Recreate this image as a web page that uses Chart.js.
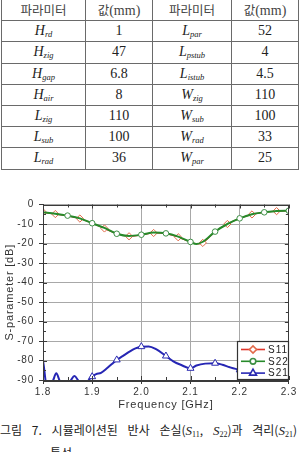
<!DOCTYPE html>
<html><head><meta charset="utf-8">
<script src="https://cdn.jsdelivr.net/npm/chart.js@4.4.0/dist/chart.umd.min.js"></script>
<style>
html,body{margin:0;padding:0;background:#fff;width:299px;height:452px;overflow:hidden;position:relative}
#tbl{position:absolute;left:1px;top:-1px;border-collapse:collapse;table-layout:fixed;font-family:"Liberation Serif","Noto Sans CJK KR",serif;font-size:14px;color:#222}
#tbl td{border:1.5px solid #6a6a6a;height:20.2px;padding:0;text-align:center;line-height:18px;white-space:nowrap}
#tbl td.h{font-family:"Noto Sans CJK KR",sans-serif;font-size:12.5px;color:#444}
#tbl td.h span{font-family:"Liberation Serif",serif;font-size:14px}
#tbl i{font-size:14px}
#tbl sub{font-size:8.5px;font-style:italic;vertical-align:-2px;line-height:0}
#cv{position:absolute;left:0;top:190px}
#cap{position:absolute;left:0;top:419px;width:299px;font-family:"Noto Sans CJK KR",sans-serif;font-size:12px;color:#222;line-height:22px}
#cap .l1{text-align:justify;text-align-last:justify;width:297px;white-space:nowrap}
#cap .l2{padding-left:50px}
#cap i{font-family:"Liberation Serif",serif;font-size:13px}
#cap sub{font-family:"Liberation Serif",serif;font-size:8px;vertical-align:-2px;line-height:0}
</style></head>
<body>
<table id="tbl"><colgroup><col style="width:84px"><col style="width:67px"><col style="width:79px"><col style="width:67px"></colgroup><tbody id="tb"></tbody></table>
<canvas id="cv" width="299" height="225"></canvas>
<div id="cap"><div class="l1">그림 7. 시뮬레이션된 반사 손실(<i>S</i><sub>11</sub>, <i>S</i><sub>22</sub>)과 격리(<i>S</i><sub>21</sub>)</div><div class="l2">특성</div></div>
<script>
// ---- table data ----
const headers = ['파라미터', '값(mm)', '파라미터', '값(mm)'];
const paramLeftSym = ['H','H','H','H','L','L','L'];
const paramLeftSub = ['rd','zig','gap','air','zig','sub','rad'];
const valueLeft = ['1','47','6.8','8','110','100','36'];
const paramRightSym = ['L','L','L','W','W','W','W'];
const paramRightSub = ['par','pstub','istub','zig','sub','rad','par'];
const valueRight = ['52','4','4.5','110','100','33','25'];

// ---- chart data ----
const freqS11 = [1.800,1.825,1.850,1.875,1.900,1.925,1.950,1.975,2.000,2.025,2.050,2.075,2.100,2.115,2.125,2.150,2.175,2.200,2.225,2.250,2.275,2.300];
const s11 =     [-4.0,-4.9,-5.8,-7.2,-9.6,-12.3,-14.9,-16.3,-15.6,-14.6,-14.9,-16.8,-19.3,-20.2,-19.7,-13.9,-10.0,-7.1,-5.1,-4.0,-3.4,-3.2];
const freqS22 = [1.800,1.825,1.850,1.875,1.900,1.925,1.950,1.975,2.000,2.025,2.050,2.075,2.100,2.112,2.125,2.150,2.175,2.200,2.225,2.250,2.275,2.300];
const s22 =     [-4.0,-4.7,-5.7,-7.1,-9.6,-12.0,-15.0,-16.1,-15.5,-14.4,-14.8,-16.5,-19.2,-20.3,-19.1,-13.9,-10.0,-7.1,-5.0,-4.0,-3.3,-3.2];
const freqS21 = [1.800,1.802,1.806,1.812,1.820,1.827,1.834,1.842,1.850,1.857,1.864,1.871,1.880,1.888,1.893,1.900,1.908,1.918,1.930,1.940,1.950,1.962,1.975,1.988,2.000,2.015,2.030,2.050,2.065,2.080,2.100,2.112,2.130,2.150,2.165,2.180,2.200,2.225,2.250,2.275,2.300];
const s21 =     [-80.0,-83.5,-91.5,-93.5,-90.5,-86.6,-90.5,-94.0,-93.0,-90.0,-88.0,-90.0,-93.5,-92.0,-90.0,-88.3,-87.0,-86.3,-84.0,-81.8,-79.7,-77.8,-75.6,-73.8,-72.9,-72.8,-74.2,-77.7,-80.4,-82.2,-84.0,-82.6,-81.6,-81.4,-82.2,-83.5,-84.8,-85.3,-85.5,-85.2,-85.0];
const markS11 = [1.800,1.825,1.875,1.925,1.975,2.025,2.075,2.125,2.175,2.225,2.275];
const markS22 = [1.850,1.900,1.950,2.000,2.050,2.100,2.150,2.200,2.250,2.300];
const markS21 = [1.900,1.950,2.000,2.050,2.100,2.150,2.200,2.250,2.300];
const seriesNames = ['S11','S22','S21'];
const xTickMin = 1.8, xTickMax = 2.3, xTickStep = 0.1;
const yTickMin = -90, yTickMax = 0, yTickStep = 10;

// build table
const tb = document.getElementById('tb');
let html = '<tr>' + headers.map(h => {
  const m = h.match(/^(값)(.*)$/);
  return '<td class="h">' + (m ? m[1] + '<span>' + m[2] + '</span>' : h) + '</td>';
}).join('') + '</tr>';
for (let i = 0; i < valueLeft.length; i++) {
  html += '<tr><td><i>' + paramLeftSym[i] + '</i><sub>' + paramLeftSub[i] + '</sub></td><td>' + valueLeft[i] +
          '</td><td><i>' + paramRightSym[i] + '</i><sub>' + paramRightSub[i] + '</sub></td><td>' + valueRight[i] + '</td></tr>';
}
tb.innerHTML = html;

const toXY = (xs, ys) => xs.map((x, i) => ({x: x, y: ys[i]}));
const hasMark = (list) => (c) => list.some(v => Math.abs(v - c.raw.x) < 1e-6) ? c.dataset._r : 0;

const LS = '0.8px';
const spacingPlugin = {
  id: 'spacing',
  beforeUpdate(ch) { ch.ctx.letterSpacing = LS; },
  beforeLayout(ch) { ch.ctx.letterSpacing = LS; },
  beforeDraw(ch) { ch.ctx.letterSpacing = LS; }
};

const framePlugin = {
  id: 'frame',
  afterDatasetsDraw(ch) {
    const {ctx, chartArea: a, scales: {x, y}} = ch;
    ctx.save();
    ctx.strokeStyle = '#3a3a3a';
    ctx.lineWidth = 1;
    ctx.beginPath();
    for (let v = yTickMin; v <= yTickMax + 1e-9; v += yTickStep / 2) {
      const py = Math.round(y.getPixelForValue(v)) + 0.5;
      const major = Math.abs(v % yTickStep) < 1e-6;
      const len = major ? 4 : 3;
      ctx.moveTo(a.left, py); ctx.lineTo(a.left + len, py);
      ctx.moveTo(a.right, py); ctx.lineTo(a.right - len, py);
    }
    for (let k = 0; k <= 10; k++) {
      const v = xTickMin + k * xTickStep / 2;
      const px = Math.round(x.getPixelForValue(v)) + 0.5;
      const len = (k % 2 === 0) ? 4 : 3;
      ctx.moveTo(px, a.top); ctx.lineTo(px, a.top + len);
      ctx.moveTo(px, a.bottom); ctx.lineTo(px, a.bottom - len);
    }
    ctx.stroke();
    ctx.strokeRect(Math.round(a.left) + 0.5, Math.round(a.top) + 0.5, Math.round(a.right - a.left) - 1, Math.round(a.bottom - a.top));
    ctx.restore();
  },
  afterDraw(ch) {
    const {ctx, chartArea: a} = ch;
    const w = 52, h = 39;
    const bx = Math.round(a.right) - w, by = Math.round(a.bottom) - h;
    ctx.save();
    ctx.fillStyle = '#fff';
    ctx.fillRect(bx, by, w, h);
    ctx.strokeStyle = '#333';
    ctx.lineWidth = 1.2;
    ctx.strokeRect(bx + 0.5, by + 0.5, w - 1, h - 1);
    ch.data.datasets.forEach((ds, i) => {
      const cy = by + 8.5 + i * 11.8;
      ctx.strokeStyle = ds.borderColor;
      ctx.lineWidth = 1.6;
      ctx.beginPath(); ctx.moveTo(bx + 4, cy); ctx.lineTo(bx + 28, cy); ctx.stroke();
      ctx.fillStyle = '#fff';
      ctx.strokeStyle = ds.pointBorderColor;
      Chart.helpers.drawPoint(ctx, {pointStyle: ds.pointStyle, radius: ds._r, rotation: 0, borderWidth: 1}, bx + 16, cy);
      ctx.letterSpacing = '1px';
      ctx.fillStyle = '#222';
      ctx.font = '10px "Liberation Sans", Arial, sans-serif';
      ctx.textBaseline = 'middle';
      ctx.textAlign = 'left';
      ctx.fillText(seriesNames[i], bx + 31, cy + 0.5);
    });
    ctx.restore();
  }
};

const tickFont = {family: '"Liberation Sans", Arial, sans-serif', size: 10};
new Chart(document.getElementById('cv'), {
  type: 'line',
  data: {
    datasets: [
      {label: seriesNames[0], data: toXY(freqS11, s11), borderColor: '#e0352b', borderWidth: 1.2,
       pointStyle: 'rectRot', _r: 3.6, pointRadius: hasMark(markS11), pointBackgroundColor: '#fff',
       pointBorderColor: '#e26a4a', pointBorderWidth: 1, cubicInterpolationMode: 'monotone', order: 3},
      {label: seriesNames[1], data: toXY(freqS22, s22), borderColor: '#278a2a', borderWidth: 2,
       pointStyle: 'circle', _r: 2.8, pointRadius: hasMark(markS22), pointBackgroundColor: '#fff',
       pointBorderColor: '#3d8f45', pointBorderWidth: 1, cubicInterpolationMode: 'monotone', order: 2},
      {label: seriesNames[2], data: toXY(freqS21, s21), borderColor: '#2626b4', borderWidth: 2,
       pointStyle: 'triangle', _r: 4, pointRadius: hasMark(markS21), pointBackgroundColor: '#fff',
       pointBorderColor: '#2a2ab0', pointBorderWidth: 1, cubicInterpolationMode: 'monotone', order: 1, clip: 0}
    ]
  },
  options: {
    responsive: false, animation: false, devicePixelRatio: 1,
    layout: {padding: {left: 0, right: 10, top: 14.5, bottom: 0}},
    plugins: {legend: {display: false}, tooltip: {enabled: false}},
    scales: {
      x: {
        type: 'linear', min: xTickMin, max: xTickMax,
        afterFit: s => { s.height = 35; },
        afterBuildTicks: s => { s.ticks = []; for (let k = 0; k <= 5; k++) s.ticks.push({value: xTickMin + k * xTickStep}); },
        ticks: {callback: v => v.toFixed(1), color: '#333', font: tickFont, padding: 2, maxRotation: 0, autoSkip: false},
        grid: {color: '#a8a8a8', lineWidth: 1, tickLength: 4, tickColor: '#3a3a3a'},
        border: {color: '#3a3a3a', width: 1},
        title: {display: true, text: 'Frequency [GHz]', color: '#333', font: {family: '"Liberation Sans", Arial, sans-serif', size: 11}, padding: {top: 0, bottom: 3}}
      },
      y: {
        min: yTickMin, max: yTickMax,
        afterFit: s => { s.width = 43; },
        ticks: {stepSize: yTickStep, color: '#333', font: tickFont, padding: 5},
        grid: {color: '#a8a8a8', lineWidth: 1, tickLength: 4, tickColor: '#3a3a3a'},
        border: {color: '#3a3a3a', width: 1},
        title: {display: true, text: 'S-parameter [dB]', color: '#333', font: {family: '"Liberation Sans", Arial, sans-serif', size: 11}, padding: {top: 3, bottom: 0}}
      }
    }
  },
  plugins: [spacingPlugin, framePlugin]
});
</script>
</body></html>
